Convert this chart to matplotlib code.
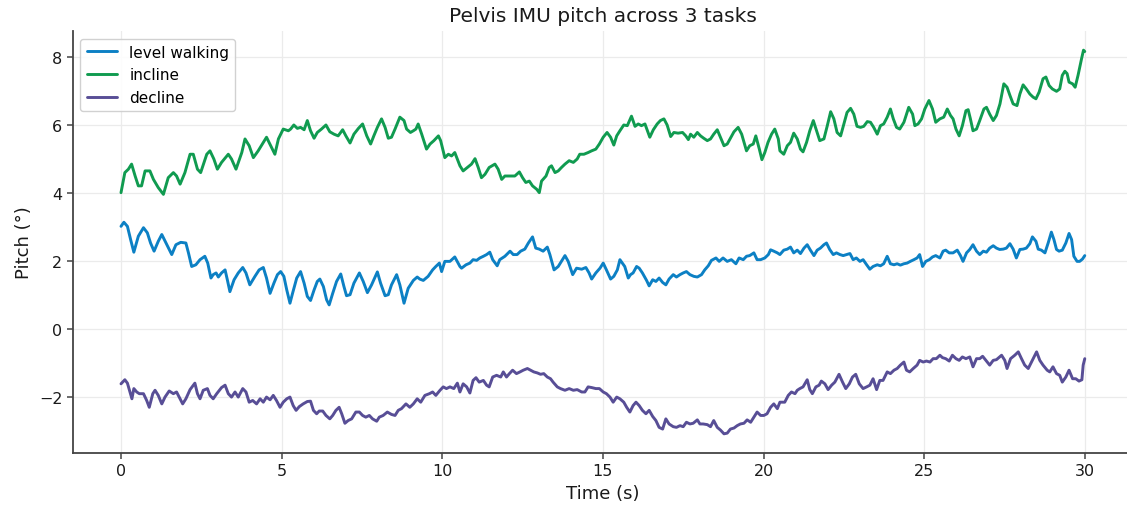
import matplotlib
matplotlib.use("Agg")
import matplotlib.pyplot as plt
import numpy as np

plt.rcParams["font.family"] = ["DejaVu Sans"]

# Pelvis pitch traces (time in s, pitch in degrees), one list per task
LEVEL_WALKING = [
    (0.00, 3.01), (0.09, 3.13), (0.20, 3.01), (0.30, 2.62), (0.40, 2.25), (0.54, 2.72), (0.70, 2.97),
    (0.82, 2.82), (0.92, 2.52), (1.03, 2.28), (1.16, 2.57), (1.27, 2.77), (1.40, 2.52), (1.58, 2.18),
    (1.71, 2.47), (1.86, 2.54), (2.02, 2.52), (2.10, 2.23), (2.20, 1.83), (2.33, 1.88), (2.46, 2.03),
    (2.61, 2.13), (2.70, 1.93), (2.80, 1.49), (2.87, 1.59), (2.96, 1.64), (3.03, 1.52), (3.13, 1.64),
    (3.24, 1.73), (3.31, 1.44), (3.39, 1.09), (3.52, 1.44), (3.65, 1.64), (3.79, 1.80), (3.89, 1.64),
    (4.01, 1.29), (4.17, 1.54), (4.30, 1.73), (4.43, 1.80), (4.53, 1.49), (4.64, 1.04), (4.76, 1.34),
    (4.87, 1.59), (4.97, 1.68), (5.07, 1.54), (5.16, 1.14), (5.26, 0.75),
    (5.34, 1.04), (5.47, 1.49), (5.59, 1.68), (5.70, 1.34), (5.80, 0.95), (5.90, 0.83), (6.01, 1.14),
    (6.11, 1.39), (6.19, 1.46), (6.30, 1.24), (6.40, 0.85), (6.48, 0.70), (6.59, 1.04), (6.71, 1.39),
    (6.84, 1.61), (6.94, 1.24), (7.02, 0.97), (7.13, 1.00), (7.25, 1.34), (7.42, 1.64), (7.54, 1.39),
    (7.67, 1.06), (7.80, 1.29), (7.98, 1.67), (8.08, 1.34), (8.22, 0.97), (8.32, 1.00), (8.42, 1.29),
    (8.58, 1.59), (8.68, 1.29), (8.81, 0.75), (8.94, 1.19), (9.10, 1.42), (9.22, 1.52), (9.30, 1.46),
    (9.41, 1.42), (9.56, 1.54), (9.70, 1.73), (9.80, 1.83), (9.91, 1.93), (9.98, 1.68), (10.08, 1.98),
    (10.24, 1.98), (10.39, 2.11), (10.55, 1.83),
    (10.60, 1.78), (10.74, 1.88), (10.86, 1.93), (10.96, 2.03), (11.07, 2.01), (11.17, 2.08), (11.28, 2.13),
    (11.38, 2.18), (11.48, 2.25), (11.57, 2.03), (11.71, 1.85), (11.79, 2.03), (11.95, 2.13), (12.11, 2.28),
    (12.21, 2.18), (12.33, 2.18), (12.44, 2.28), (12.57, 2.34), (12.68, 2.52), (12.81, 2.70), (12.91, 2.37),
    (13.02, 2.34), (13.14, 2.28), (13.27, 2.40), (13.35, 2.18), (13.48, 1.73), (13.61, 1.83), (13.71, 1.98),
    (13.82, 2.15), (13.92, 1.98), (14.06, 1.59), (14.18, 1.78), (14.34, 1.75), (14.47, 1.80), (14.57, 1.64),
    (14.65, 1.46), (14.78, 1.64), (14.91, 1.78), (15.01, 1.93), (15.11, 1.73), (15.24, 1.46), (15.34, 1.54),
    (15.45, 1.73), (15.53, 2.03),
    (15.68, 1.83), (15.79, 1.49), (15.86, 1.59), (15.94, 1.64), (16.05, 1.83), (16.13, 1.78), (16.23, 1.64),
    (16.36, 1.42), (16.44, 1.26), (16.55, 1.44), (16.65, 1.39), (16.75, 1.49), (16.86, 1.36), (16.96, 1.29),
    (17.06, 1.46), (17.19, 1.59), (17.29, 1.52), (17.40, 1.59), (17.50, 1.64), (17.60, 1.68), (17.71, 1.59),
    (17.83, 1.54), (17.94, 1.52), (18.07, 1.59), (18.17, 1.73), (18.28, 1.85), (18.38, 2.01), (18.52, 2.08),
    (18.62, 1.98), (18.74, 2.08), (18.87, 1.98), (19.00, 2.03), (19.14, 1.91), (19.24, 2.08), (19.37, 2.03),
    (19.47, 2.13), (19.57, 2.15), (19.70, 2.23), (19.80, 2.03), (19.91, 2.03), (20.04, 2.08), (20.15, 2.18),
    (20.22, 2.32), (20.32, 2.28), (20.43, 2.23), (20.51, 2.18),
    (20.63, 2.31), (20.74, 2.34), (20.84, 2.40), (20.94, 2.23), (21.05, 2.31), (21.15, 2.21), (21.26, 2.37),
    (21.36, 2.47), (21.46, 2.31), (21.57, 2.15), (21.67, 2.31), (21.77, 2.37), (21.88, 2.47), (21.96, 2.52),
    (22.06, 2.33), (22.17, 2.18), (22.27, 2.23), (22.38, 2.18), (22.48, 2.15), (22.58, 2.18), (22.69, 2.21),
    (22.79, 2.03), (22.89, 2.08), (23.00, 1.98), (23.10, 2.03), (23.21, 1.88), (23.31, 1.75), (23.41, 1.83),
    (23.54, 1.88), (23.64, 1.85), (23.74, 1.91), (23.85, 2.13), (23.95, 1.91), (24.06, 1.88), (24.16, 1.91),
    (24.26, 1.87), (24.37, 1.91), (24.47, 1.93), (24.57, 1.98), (24.68, 2.03), (24.78, 2.08), (24.86, 2.18),
    (24.95, 1.83), (25.05, 1.98), (25.16, 2.03), (25.26, 2.11), (25.36, 2.15), (25.49, 2.08),
    (25.59, 2.28), (25.67, 2.31), (25.78, 2.23), (25.90, 2.23), (26.03, 2.31), (26.13, 2.15), (26.21, 1.98),
    (26.32, 2.23), (26.42, 2.33), (26.52, 2.47), (26.63, 2.28), (26.73, 2.18), (26.84, 2.28), (26.94, 2.25),
    (27.04, 2.37), (27.15, 2.44), (27.25, 2.37), (27.35, 2.33), (27.46, 2.34), (27.56, 2.37), (27.67, 2.50),
    (27.77, 2.34), (27.87, 2.08), (27.98, 2.33), (28.08, 2.34), (28.18, 2.37), (28.29, 2.50), (28.37, 2.70),
    (28.48, 2.57), (28.55, 2.34), (28.65, 2.31), (28.76, 2.23), (28.86, 2.52), (28.96, 2.84), (29.04, 2.62),
    (29.12, 2.33), (29.20, 2.28), (29.30, 2.31), (29.41, 2.52), (29.51, 2.80), (29.59, 2.62), (29.66, 2.13),
    (29.76, 1.98), (29.84, 1.98), (29.93, 2.05), (30.00, 2.15),
]

INCLINE = [
    (0.00, 4.00), (0.12, 4.59), (0.23, 4.69), (0.33, 4.84), (0.44, 4.49), (0.54, 4.20), (0.64, 4.20),
    (0.75, 4.64), (0.90, 4.64), (1.01, 4.39), (1.16, 4.15), (1.32, 3.95), (1.47, 4.44), (1.63, 4.59),
    (1.73, 4.49), (1.84, 4.25), (1.99, 4.59), (2.15, 5.13), (2.25, 5.13), (2.38, 4.69), (2.48, 4.59),
    (2.67, 5.13), (2.77, 5.23), (2.89, 4.99), (3.00, 4.69), (3.13, 4.89), (3.34, 5.13), (3.44, 4.99),
    (3.58, 4.69), (3.76, 5.18), (3.86, 5.58), (3.99, 5.38), (4.12, 5.03), (4.27, 5.23), (4.53, 5.63),
    (4.66, 5.38), (4.79, 5.13), (4.90, 5.58), (5.05, 5.87), (5.21, 5.82),
    (5.28, 5.87), (5.38, 5.99), (5.49, 5.89), (5.59, 5.92), (5.70, 5.85), (5.80, 6.12), (5.90, 5.82),
    (6.01, 5.60), (6.11, 5.77), (6.24, 5.87), (6.38, 5.99), (6.50, 5.79), (6.63, 5.72), (6.76, 5.67),
    (6.90, 5.85), (7.00, 5.67), (7.13, 5.46), (7.25, 5.72), (7.39, 5.89), (7.52, 6.02), (7.65, 5.67),
    (7.77, 5.43), (7.87, 5.67), (7.98, 5.92), (8.11, 6.17), (8.22, 5.92), (8.32, 5.60), (8.42, 5.63),
    (8.53, 5.87), (8.68, 6.22), (8.81, 6.12), (8.89, 5.87), (9.01, 5.77), (9.10, 5.82), (9.18, 5.87),
    (9.25, 6.02), (9.36, 5.72), (9.51, 5.28), (9.62, 5.43), (9.74, 5.53), (9.88, 5.67), (9.95, 5.53),
    (10.08, 5.03), (10.19, 5.13), (10.29, 5.08), (10.39, 5.18), (10.55, 4.79),
    (10.65, 4.64), (10.78, 4.74), (10.91, 4.84), (11.02, 5.00), (11.12, 4.74), (11.22, 4.44), (11.33, 4.54),
    (11.46, 4.74), (11.64, 4.84), (11.74, 4.69), (11.85, 4.39), (11.95, 4.49), (12.11, 4.49), (12.26, 4.49),
    (12.40, 4.61), (12.50, 4.44), (12.60, 4.30), (12.71, 4.34), (12.81, 4.20), (12.94, 4.10), (13.02, 4.00),
    (13.09, 4.34), (13.23, 4.49), (13.33, 4.74), (13.40, 4.79), (13.51, 4.59), (13.61, 4.64), (13.71, 4.74),
    (13.82, 4.84), (13.95, 4.94), (14.08, 4.89), (14.20, 4.99), (14.28, 5.13), (14.41, 5.13), (14.54, 5.18),
    (14.65, 5.23), (14.78, 5.28), (14.89, 5.43), (15.01, 5.63), (15.13, 5.77), (15.24, 5.63), (15.34, 5.40),
    (15.43, 5.67), (15.53, 5.82),
    (15.65, 5.99), (15.76, 5.97), (15.89, 6.25), (16.00, 5.95), (16.10, 6.02), (16.20, 5.97), (16.31, 6.02),
    (16.46, 5.63), (16.57, 5.85), (16.69, 6.02), (16.79, 6.12), (16.90, 6.17), (17.00, 5.99), (17.11, 5.65),
    (17.21, 5.77), (17.34, 5.75), (17.48, 5.77), (17.58, 5.67), (17.66, 5.56), (17.73, 5.72), (17.83, 5.63),
    (17.94, 5.77), (18.04, 5.67), (18.14, 5.60), (18.25, 5.53), (18.35, 5.58), (18.45, 5.72), (18.56, 5.85),
    (18.66, 5.63), (18.77, 5.38), (18.87, 5.43), (18.97, 5.60), (19.08, 5.79), (19.21, 5.92), (19.32, 5.72),
    (19.47, 5.23), (19.57, 5.38), (19.68, 5.43), (19.76, 5.67), (19.87, 5.28), (19.95, 4.97), (20.04, 5.18),
    (20.14, 5.48), (20.25, 5.72), (20.35, 5.87), (20.46, 5.58), (20.51, 5.23),
    (20.63, 5.13), (20.74, 5.38), (20.84, 5.48), (20.94, 5.75), (21.05, 5.58), (21.15, 5.28), (21.23, 5.20),
    (21.34, 5.48), (21.44, 5.82), (21.55, 6.12), (21.65, 5.82), (21.75, 5.53), (21.88, 5.58), (21.98, 5.95),
    (22.09, 6.38), (22.19, 6.17), (22.29, 5.77), (22.40, 5.67), (22.50, 6.02), (22.60, 6.36), (22.71, 6.48),
    (22.81, 6.31), (22.91, 5.95), (23.02, 5.92), (23.12, 5.95), (23.23, 6.09), (23.33, 6.07), (23.43, 5.92),
    (23.54, 5.72), (23.64, 5.97), (23.74, 6.02), (23.85, 6.22), (23.95, 6.46), (24.04, 6.17), (24.14, 5.92),
    (24.24, 5.87), (24.37, 6.07), (24.52, 6.51), (24.64, 6.31), (24.71, 5.97), (24.81, 6.02), (24.92, 6.17),
    (25.02, 6.46), (25.15, 6.71), (25.26, 6.46), (25.36, 6.07), (25.49, 6.17),
    (25.61, 6.22), (25.72, 6.46), (25.82, 6.27), (25.90, 6.17), (25.99, 5.87), (26.09, 5.67), (26.19, 5.97),
    (26.30, 6.41), (26.37, 6.44), (26.44, 6.17), (26.52, 5.82), (26.63, 5.87), (26.73, 6.12), (26.86, 6.46),
    (26.94, 6.51), (27.04, 6.31), (27.15, 6.12), (27.25, 6.27), (27.36, 6.61), (27.48, 7.20), (27.58, 7.10),
    (27.67, 6.86), (27.77, 6.61), (27.89, 6.56), (27.98, 6.90), (28.08, 7.17), (28.18, 7.05), (28.29, 6.90),
    (28.39, 6.81), (28.48, 6.76), (28.58, 6.96), (28.70, 7.35), (28.79, 7.40), (28.89, 7.15), (28.99, 7.05),
    (29.12, 6.98), (29.22, 7.05), (29.30, 7.45), (29.38, 7.57), (29.45, 7.50), (29.51, 7.25), (29.62, 7.20),
    (29.70, 7.10), (29.79, 7.45), (29.90, 7.94), (29.96, 8.19), (30.00, 8.15),
]

DECLINE = [
    (0.00, -1.62), (0.12, -1.50), (0.20, -1.60), (0.28, -1.86), (0.34, -2.06), (0.40, -1.76), (0.49, -1.86),
    (0.57, -1.91), (0.70, -1.91), (0.80, -2.11), (0.88, -2.31), (0.99, -1.91), (1.06, -1.81), (1.16, -1.96),
    (1.27, -2.21), (1.37, -2.01), (1.50, -1.83), (1.63, -1.91), (1.73, -1.86), (1.84, -2.06), (1.92, -2.21),
    (2.02, -2.06), (2.15, -1.79), (2.30, -1.60), (2.38, -1.91), (2.46, -2.06), (2.56, -1.81), (2.69, -1.76),
    (2.77, -1.96), (2.87, -2.06), (2.98, -1.91), (3.13, -1.73), (3.24, -1.66), (3.34, -1.91), (3.44, -2.01),
    (3.55, -1.86), (3.65, -2.01), (3.79, -1.76), (3.89, -1.86), (3.99, -2.16), (4.10, -2.11), (4.22, -2.21),
    (4.33, -2.06), (4.43, -2.16), (4.53, -2.01), (4.64, -2.09), (4.74, -1.96), (4.84, -2.11), (4.95, -2.31),
    (5.05, -2.16), (5.16, -2.06), (5.26, -2.01),
    (5.36, -2.26), (5.45, -2.40), (5.55, -2.29), (5.67, -2.21), (5.80, -2.14), (5.90, -2.13), (5.99, -2.40),
    (6.09, -2.50), (6.17, -2.42), (6.28, -2.42), (6.38, -2.55), (6.50, -2.65), (6.59, -2.55), (6.69, -2.40),
    (6.79, -2.31), (6.87, -2.50), (6.97, -2.78), (7.07, -2.70), (7.18, -2.65), (7.31, -2.45), (7.42, -2.45),
    (7.52, -2.55), (7.62, -2.60), (7.73, -2.55), (7.83, -2.65), (7.96, -2.72), (8.04, -2.60), (8.16, -2.55),
    (8.29, -2.45), (8.42, -2.52), (8.53, -2.55), (8.63, -2.40), (8.73, -2.35), (8.87, -2.21), (8.99, -2.31),
    (9.10, -2.21), (9.22, -2.06), (9.33, -2.16), (9.46, -1.96), (9.60, -1.91), (9.70, -1.86), (9.80, -1.96),
    (9.93, -1.81), (10.03, -1.71), (10.13, -1.76), (10.24, -1.71), (10.36, -1.76), (10.47, -1.60), (10.55, -1.86),
    (10.65, -1.62), (10.76, -1.71), (10.86, -1.89), (10.96, -1.52), (11.05, -1.44), (11.15, -1.57), (11.28, -1.52),
    (11.38, -1.66), (11.46, -1.71), (11.57, -1.42), (11.69, -1.37), (11.82, -1.42), (11.90, -1.27), (12.00, -1.42),
    (12.09, -1.32), (12.19, -1.22), (12.31, -1.32), (12.42, -1.27), (12.52, -1.22), (12.65, -1.17), (12.75, -1.22),
    (12.85, -1.27), (12.96, -1.30), (13.06, -1.34), (13.16, -1.32), (13.27, -1.42), (13.37, -1.47), (13.45, -1.57),
    (13.58, -1.71), (13.68, -1.76), (13.82, -1.81), (13.95, -1.76), (14.08, -1.81), (14.20, -1.79), (14.34, -1.86),
    (14.44, -1.86), (14.54, -1.71), (14.65, -1.73), (14.78, -1.76), (14.89, -1.76), (15.01, -1.86), (15.11, -1.91),
    (15.22, -2.01), (15.32, -2.16), (15.43, -2.01), (15.53, -2.06),
    (15.65, -2.16), (15.74, -2.31), (15.84, -2.45), (15.94, -2.26), (16.03, -2.16), (16.13, -2.26), (16.23, -2.40),
    (16.34, -2.50), (16.44, -2.40), (16.55, -2.58), (16.65, -2.70), (16.75, -2.90), (16.86, -2.95), (16.96, -2.65),
    (17.06, -2.80), (17.19, -2.88), (17.29, -2.90), (17.40, -2.85), (17.50, -2.88), (17.60, -2.75), (17.71, -2.80),
    (17.81, -2.78), (17.94, -2.68), (18.02, -2.80), (18.12, -2.80), (18.25, -2.82), (18.35, -2.88), (18.45, -2.70),
    (18.56, -2.90), (18.66, -2.98), (18.77, -3.09), (18.87, -3.07), (18.97, -2.95), (19.08, -2.92), (19.18, -2.85),
    (19.28, -2.80), (19.39, -2.78), (19.49, -2.68), (19.60, -2.75), (19.70, -2.60), (19.80, -2.45), (19.91, -2.55),
    (20.01, -2.55), (20.11, -2.50), (20.22, -2.31), (20.32, -2.21), (20.43, -2.35), (20.51, -2.16),
    (20.66, -2.16), (20.77, -1.96), (20.87, -1.86), (20.98, -1.91), (21.05, -1.81), (21.13, -1.76), (21.23, -1.71),
    (21.36, -1.50), (21.44, -1.79), (21.52, -1.91), (21.63, -1.71), (21.73, -1.66), (21.80, -1.54), (21.91, -1.62),
    (22.01, -1.79), (22.12, -1.66), (22.22, -1.57), (22.35, -1.34), (22.46, -1.57), (22.56, -1.76), (22.67, -1.62),
    (22.77, -1.42), (22.87, -1.34), (22.98, -1.62), (23.10, -1.76), (23.21, -1.71), (23.31, -1.66), (23.41, -1.47),
    (23.52, -1.79), (23.62, -1.52), (23.72, -1.52), (23.85, -1.27), (23.95, -1.32), (24.06, -1.22), (24.16, -1.17),
    (24.26, -1.07), (24.37, -0.98), (24.45, -1.22), (24.55, -1.27), (24.66, -1.17), (24.78, -1.07), (24.86, -0.93),
    (24.97, -0.98), (25.07, -0.95), (25.18, -0.98), (25.28, -0.88), (25.38, -0.88), (25.49, -0.78),
    (25.57, -0.85), (25.67, -0.88), (25.78, -0.95), (25.88, -0.78), (25.99, -0.88), (26.09, -0.93), (26.19, -0.83),
    (26.30, -0.88), (26.42, -0.83), (26.52, -1.12), (26.63, -0.88), (26.73, -0.88), (26.82, -0.81), (26.92, -0.93),
    (27.04, -1.07), (27.15, -0.93), (27.25, -0.91), (27.35, -0.83), (27.41, -0.78), (27.51, -0.93), (27.58, -1.17),
    (27.69, -0.88), (27.82, -0.78), (27.93, -0.68), (28.03, -0.88), (28.13, -1.07), (28.24, -1.17), (28.34, -0.98),
    (28.50, -0.68), (28.60, -0.93), (28.70, -1.07), (28.83, -1.22), (28.91, -1.27), (29.01, -1.12), (29.12, -1.32),
    (29.22, -1.37), (29.30, -1.57), (29.41, -1.42), (29.51, -1.22), (29.62, -1.47), (29.72, -1.47), (29.82, -1.54),
    (29.91, -1.50), (29.95, -1.07), (30.00, -0.88),
]

TASKS = ["level walking", "incline", "decline"]
COLORS = ["#0c80c4", "#109b50", "#584e96"]

fig = plt.figure(figsize=(11.27, 5.10), dpi=100)
ax = fig.add_axes([0.0646, 0.1098, 0.9407, 0.8275])

for name, trace, color in zip(TASKS, [LEVEL_WALKING, INCLINE, DECLINE], COLORS):
    t, pitch = np.array(trace).T
    ax.plot(t, pitch, color=color, lw=2.1, label=name,
            solid_joinstyle="round", solid_capstyle="round")

ax.set_xlim(-1.5, 31.5)
ax.set_xticks([0, 5, 10, 15, 20, 25, 30])
ax.set_yticks([-2, 0, 2, 4, 6, 8])
ax.grid(True, color="#ebebeb", lw=0.9)
ax.set_axisbelow(True)

ax.spines[["top", "right"]].set_visible(False)
for side in ["left", "bottom"]:
    ax.spines[side].set_color("#444444")
    ax.spines[side].set_linewidth(1.3)
ax.tick_params(labelsize=11.5, colors="#444444", labelcolor="#1a1a1a", length=4, width=1.1)

ax.set_xlabel("Time (s)", fontsize=13, color="#1a1a1a")
ax.set_ylabel("Pitch (°)", fontsize=13, color="#1a1a1a")
ax.set_title("Pelvis IMU pitch across 3 tasks", fontsize=14.5, color="#1a1a1a", pad=7)
ax.legend(loc="upper left", fontsize=11, framealpha=0.9, edgecolor="#cccccc")

fig.savefig("out.png", dpi=100)
plt.close(fig)
